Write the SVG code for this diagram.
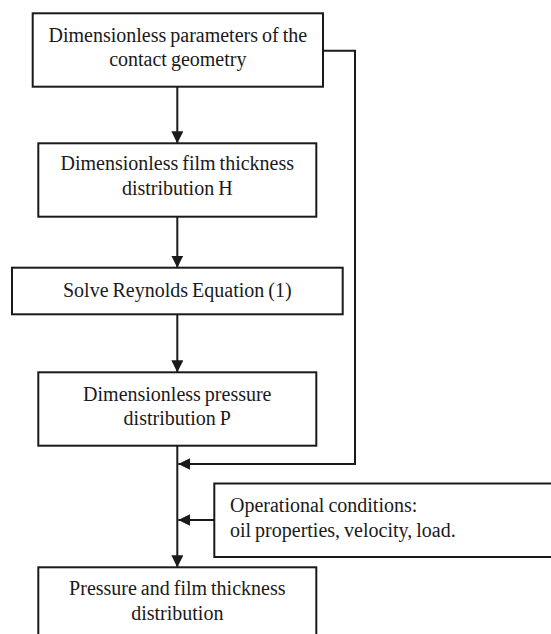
<svg xmlns="http://www.w3.org/2000/svg" width="551" height="634" viewBox="0 0 551 634">
<style>
.box{fill:#fff;stroke:#1a1a1a;stroke-width:2}
.t{font-family:'Liberation Serif','DejaVu Serif',serif;font-size:20px;fill:#1a1a1a;text-anchor:middle;word-spacing:-1px}
.l{text-anchor:start}
.c{fill:none;stroke:#1a1a1a;stroke-width:2}
</style>
<defs>
<marker id="ah" markerWidth="12" markerHeight="12" viewBox="0 0 12 12" refX="12" refY="6" orient="auto" markerUnits="userSpaceOnUse">
<path d="M0,0 L12,6 L0,12 Z" fill="#1a1a1a"/>
</marker>
</defs>
<rect width="551" height="634" fill="#fff"/>
<g id="connectors">
<line class="c" x1="177.3" y1="86.7" x2="177.3" y2="143.3" marker-end="url(#ah)"/>
<line class="c" x1="177.3" y1="216.7" x2="177.3" y2="267.7" marker-end="url(#ah)"/>
<line class="c" x1="177.3" y1="314.3" x2="177.3" y2="372.3" marker-end="url(#ah)"/>
<line class="c" x1="177.3" y1="445.7" x2="177.3" y2="567.3" marker-end="url(#ah)"/>
<polyline class="c" points="323,50.7 355,50.7 355,464 178.3,464" marker-end="url(#ah)"/>
<line class="c" x1="214.3" y1="520" x2="178.3" y2="520" marker-end="url(#ah)"/>
</g>
<g id="n1">
<rect class="box" x="32.7" y="13.3" width="290.3" height="73.4"/>
<text class="t" x="177.8" y="41.5">Dimensionless parameters of the</text>
<text class="t" x="177.8" y="66">contact geometry</text>
</g>
<g id="n2">
<rect class="box" x="38.3" y="143.3" width="278" height="73.4"/>
<text class="t" x="177.3" y="170">Dimensionless film thickness</text>
<text class="t" x="177.3" y="194.5">distribution H</text>
</g>
<g id="n3">
<rect class="box" x="12" y="267.7" width="330.7" height="46.6"/>
<text class="t" x="177.3" y="297">Solve Reynolds Equation (1)</text>
</g>
<g id="n4">
<rect class="box" x="38.3" y="372.3" width="278" height="73.4"/>
<text class="t" x="177.3" y="401">Dimensionless pressure</text>
<text class="t" x="177.3" y="425">distribution P</text>
</g>
<g id="n5">
<rect class="box" x="214.3" y="483.5" width="345" height="73.5"/>
<text class="t l" x="230" y="511.7">Operational conditions:</text>
<text class="t l" x="230" y="536.7">oil properties, velocity, load.</text>
</g>
<g id="n6">
<rect class="box" x="38.3" y="567.3" width="278" height="80"/>
<text class="t" x="177.3" y="595">Pressure and film thickness</text>
<text class="t" x="177.3" y="620">distribution</text>
</g>
</svg>
